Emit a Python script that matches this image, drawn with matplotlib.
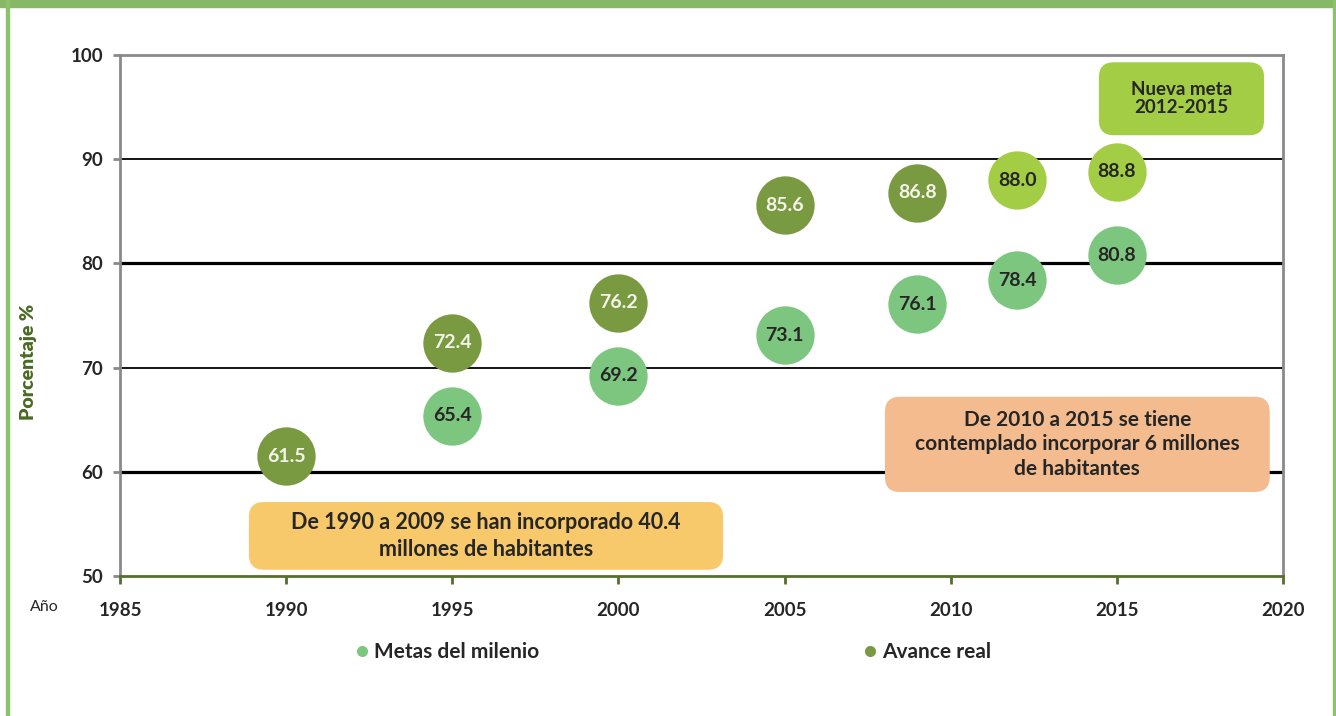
import numpy as np
import matplotlib
matplotlib.use("Agg")
import matplotlib.pyplot as plt
from matplotlib.patches import FancyBboxPatch, Rectangle
from matplotlib.lines import Line2D

plt.rcParams["font.family"] = ["Lato", "DejaVu Sans"]

# ── Data ──────────────────────────────────────────────────────────────
YEARS_REAL = [1990, 1995, 2000, 2005, 2009]
VALUES_REAL = [61.5, 72.4, 76.2, 85.6, 86.8]

YEARS_GOAL = [1995, 2000, 2005, 2009, 2012, 2015]
VALUES_GOAL = [65.4, 69.2, 73.1, 76.1, 78.4, 80.8]

YEARS_NEW = [2012, 2015]
VALUES_NEW = [88.0, 88.8]

X_TICKS = [1985, 1990, 1995, 2000, 2005, 2010, 2015, 2020]
Y_TICKS = [50, 60, 70, 80, 90, 100]

LABEL_GOAL = "Metas del milenio"
LABEL_REAL = "Avance real"
NOTE_PAST = "De 1990 a 2009 se han incorporado 40.4\nmillones de habitantes"
NOTE_FUTURE = "De 2010 a 2015 se tiene\ncontemplado incorporar 6 millones\nde habitantes"
NOTE_NEW = "Nueva meta\n2012-2015"

# ── Colours ───────────────────────────────────────────────────────────
C_REAL = "#7a9a42"
C_GOAL = "#7dc67f"
C_NEW = "#a4cd46"
C_TEXT = "#262626"
C_FRAME = "#86b865"
C_AXIS_GREEN = "#556f2c"

fig = plt.figure(figsize=(13.36, 7.16), dpi=100)
ax = fig.add_axes([120 / 1336, 1 - 576 / 716, 1163 / 1336, 521 / 716])

ax.set_xlim(1985, 2020)
ax.set_ylim(50, 100)
ax.set_xticks(X_TICKS)
ax.set_yticks(Y_TICKS)

# frame / spines
for side in ["left", "top", "right"]:
    ax.spines[side].set_color("#8a8a8a")
    ax.spines[side].set_linewidth(2)
ax.spines["bottom"].set_color(C_AXIS_GREEN)
ax.spines["bottom"].set_linewidth(2)

ax.tick_params(axis="y", direction="out", length=5, width=2, color="#8a8a8a",
               pad=7, labelsize=13.5, labelcolor=C_TEXT)
ax.tick_params(axis="x", direction="out", length=6, width=2, color=C_AXIS_GREEN,
               pad=13, labelsize=13.5, labelcolor=C_TEXT)
for lbl in ax.get_xticklabels() + ax.get_yticklabels():
    lbl.set_fontweight("bold")

# horizontal grid
ax.grid(axis="y", color="black", linewidth=1.3)
ax.set_axisbelow(True)
for val, gl in zip(ax.get_yticks(), ax.get_ygridlines()):
    if val in (60, 80):
        gl.set_linewidth(2.3)
    if val in (50, 100):
        gl.set_visible(False)

ax.set_ylabel("Porcentaje %", color="#4a6a22", fontsize=14, fontweight="heavy")
ax.yaxis.set_label_coords((37 - 120) / 1163, (576 - 362) / 521)
fig.text(30 / 1336, 1 - 607 / 716, "Año", fontsize=11.5, color=C_TEXT,
         ha="left", va="center")

# ── Bubbles ───────────────────────────────────────────────────────────
SIZE = 42 ** 2
ax.scatter(YEARS_GOAL, VALUES_GOAL, s=SIZE, color=C_GOAL, zorder=3,
           linewidths=0)
ax.scatter(YEARS_REAL, VALUES_REAL, s=SIZE, color=C_REAL, zorder=3,
           linewidths=0)
ax.scatter(YEARS_NEW, VALUES_NEW, s=SIZE, color=C_NEW, zorder=3,
           linewidths=0)

for x, y in zip(YEARS_GOAL, VALUES_GOAL):
    ax.text(x, y, f"{y:.1f}", ha="center", va="center", fontsize=14,
            fontweight="bold", color=C_TEXT, zorder=4)
for x, y in zip(YEARS_REAL, VALUES_REAL):
    ax.text(x, y, f"{y:.1f}", ha="center", va="center", fontsize=14,
            fontweight="bold", color="#f4f4ea", zorder=4)
for x, y in zip(YEARS_NEW, VALUES_NEW):
    ax.text(x, y, f"{y:.1f}", ha="center", va="center", fontsize=14,
            fontweight="bold", color=C_TEXT, zorder=4)

# ── Note boxes ────────────────────────────────────────────────────────
fig.canvas.draw()
p0 = ax.transData.transform((1985, 50))
p1 = ax.transData.transform((1986, 51))
aspect = (p1[0] - p0[0]) / (p1[1] - p0[1])


def note_box(x0, x1, y0, y1, color, text, fontsize, spacing):
    box = FancyBboxPatch((x0, y0), x1 - x0, y1 - y0,
                         boxstyle="round,pad=0,rounding_size=0.45",
                         mutation_aspect=aspect, facecolor=color,
                         edgecolor="none", zorder=2.5)
    ax.add_patch(box)
    ax.text((x0 + x1) / 2, (y0 + y1) / 2, text, ha="center", va="center",
            fontsize=fontsize, fontweight="bold", color=C_TEXT,
            linespacing=spacing, zorder=4)


note_box(1988.88, 2003.15, 50.6, 57.1, "#f8c96b", NOTE_PAST, 15.5, 1.35)
note_box(2008.02, 2019.6, 58.06, 67.2, "#f4bc8e", NOTE_FUTURE, 15, 1.3)
note_box(2014.46, 2019.43, 92.3, 99.3, C_NEW, NOTE_NEW, 13.5, 1.1)

# ── Legend ────────────────────────────────────────────────────────────
handles = [
    Line2D([], [], marker="o", linestyle="none", markersize=8,
           markerfacecolor=C_GOAL, markeredgewidth=0),
    Line2D([], [], marker="o", linestyle="none", markersize=8,
           markerfacecolor=C_REAL, markeredgewidth=0),
]
leg = fig.legend(handles, [LABEL_GOAL, LABEL_REAL], ncol=2, loc="center left",
                 bbox_to_anchor=(356 / 1336, 1 - 652 / 716), frameon=False,
                 borderpad=0, borderaxespad=0, handlelength=0.6,
                 handletextpad=0.25, columnspacing=15.6,
                 prop={"size": 15, "weight": "bold"})
for t in leg.get_texts():
    t.set_color(C_TEXT)

# ── Outer frame ───────────────────────────────────────────────────────
fig.patches.append(Rectangle((0, 1 - 7 / 716), 1, 7 / 716,
                             transform=fig.transFigure, color=C_FRAME))
fig.patches.append(Rectangle((6 / 1336, 0), 2.5 / 1336, 1,
                             transform=fig.transFigure, color="#8cc26a"))
fig.patches.append(Rectangle((1333 / 1336, 0), 2.5 / 1336, 1,
                             transform=fig.transFigure, color="#8cc26a"))

fig.savefig("out.png", dpi=100)
